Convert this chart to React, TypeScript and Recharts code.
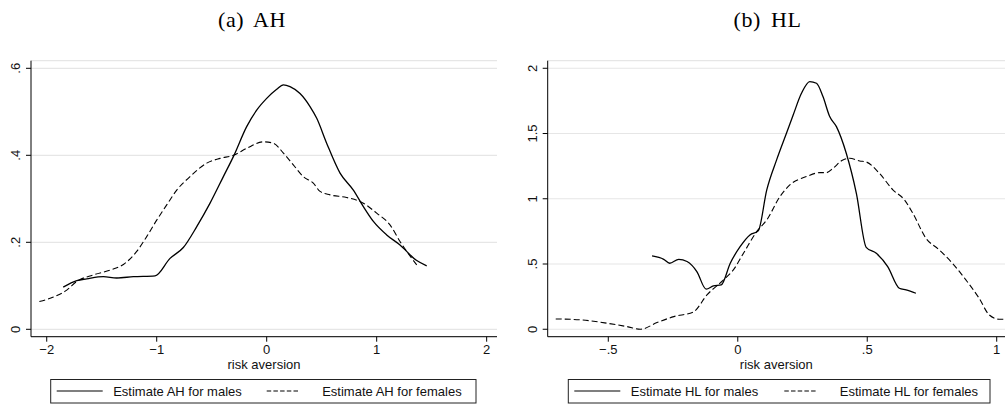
import { CartesianGrid, Line, LineChart, XAxis, YAxis } from "recharts";

// panel (a) AH
const ahMales = [
  { x: -1.85, y: 0.097 }, { x: -1.727, y: 0.112 }, { x: -1.636, y: 0.116 },
  { x: -1.485, y: 0.121 }, { x: -1.364, y: 0.118 }, { x: -1.212, y: 0.121 },
  { x: -1.015, y: 0.123 }, { x: -0.879, y: 0.163 }, { x: -0.758, y: 0.188 },
  { x: -0.636, y: 0.236 }, { x: -0.515, y: 0.29 }, { x: -0.394, y: 0.351 },
  { x: -0.303, y: 0.397 }, { x: -0.182, y: 0.466 }, { x: -0.091, y: 0.504 },
  { x: 0, y: 0.531 }, { x: 0.091, y: 0.552 }, { x: 0.152, y: 0.562 },
  { x: 0.212, y: 0.558 }, { x: 0.303, y: 0.542 }, { x: 0.394, y: 0.512 },
  { x: 0.455, y: 0.485 }, { x: 0.545, y: 0.428 }, { x: 0.667, y: 0.359 },
  { x: 0.788, y: 0.32 }, { x: 0.879, y: 0.282 }, { x: 0.97, y: 0.248 },
  { x: 1.091, y: 0.217 }, { x: 1.212, y: 0.194 }, { x: 1.364, y: 0.158 },
  { x: 1.455, y: 0.146 },
];

const ahFemales = [
  { x: -2.067, y: 0.064 }, { x: -1.939, y: 0.074 }, { x: -1.818, y: 0.09 },
  { x: -1.727, y: 0.11 }, { x: -1.576, y: 0.125 }, { x: -1.424, y: 0.136 },
  { x: -1.303, y: 0.149 }, { x: -1.182, y: 0.179 }, { x: -1.091, y: 0.213 },
  { x: -1.0, y: 0.251 }, { x: -0.909, y: 0.286 }, { x: -0.818, y: 0.32 },
  { x: -0.697, y: 0.351 }, { x: -0.545, y: 0.382 }, { x: -0.424, y: 0.393 },
  { x: -0.303, y: 0.4 }, { x: -0.182, y: 0.416 }, { x: -0.03, y: 0.431 },
  { x: 0.06, y: 0.428 }, { x: 0.152, y: 0.405 }, { x: 0.242, y: 0.378 },
  { x: 0.333, y: 0.351 }, { x: 0.424, y: 0.336 }, { x: 0.485, y: 0.317 },
  { x: 0.576, y: 0.309 }, { x: 0.727, y: 0.303 }, { x: 0.879, y: 0.29 },
  { x: 1.0, y: 0.267 }, { x: 1.121, y: 0.24 }, { x: 1.212, y: 0.202 },
  { x: 1.364, y: 0.148 },
];

const ahXTicks = [-2, -1, 0, 1, 2];
const ahXLabels = ["−2", "−1", "0", "1", "2"];
const ahYTicks = [0, 0.2, 0.4, 0.6];
const ahYLabels = ["0", ".2", ".4", ".6"];

// panel (b) HL
const hlMales = [
  { x: -0.331, y: 0.562 }, { x: -0.286, y: 0.536 }, { x: -0.263, y: 0.506 },
  { x: -0.228, y: 0.536 }, { x: -0.196, y: 0.519 }, { x: -0.158, y: 0.442 },
  { x: -0.122, y: 0.307 }, { x: -0.094, y: 0.332 }, { x: -0.064, y: 0.34 },
  { x: -0.029, y: 0.506 }, { x: 0.009, y: 0.633 }, { x: 0.047, y: 0.723 },
  { x: 0.079, y: 0.754 }, { x: 0.112, y: 1.068 }, { x: 0.15, y: 1.298 },
  { x: 0.188, y: 1.502 }, { x: 0.214, y: 1.642 }, { x: 0.246, y: 1.808 },
  { x: 0.278, y: 1.898 }, { x: 0.304, y: 1.885 }, { x: 0.329, y: 1.783 },
  { x: 0.355, y: 1.63 }, { x: 0.381, y: 1.553 }, { x: 0.419, y: 1.349 },
  { x: 0.458, y: 1.042 }, { x: 0.496, y: 0.628 }, { x: 0.535, y: 0.582 },
  { x: 0.579, y: 0.48 }, { x: 0.624, y: 0.314 }, { x: 0.65, y: 0.301 },
  { x: 0.688, y: 0.276 },
];

const hlFemales = [
  { x: -0.703, y: 0.079 }, { x: -0.606, y: 0.072 }, { x: -0.504, y: 0.046 },
  { x: -0.427, y: 0.02 }, { x: -0.376, y: 0 }, { x: -0.312, y: 0.051 },
  { x: -0.247, y: 0.097 }, { x: -0.171, y: 0.133 }, { x: -0.119, y: 0.263 },
  { x: -0.055, y: 0.378 }, { x: -0.017, y: 0.455 }, { x: 0.022, y: 0.582 },
  { x: 0.073, y: 0.748 }, { x: 0.112, y: 0.838 }, { x: 0.163, y: 1.017 },
  { x: 0.201, y: 1.106 }, { x: 0.265, y: 1.17 }, { x: 0.317, y: 1.2 },
  { x: 0.342, y: 1.2 }, { x: 0.368, y: 1.234 }, { x: 0.406, y: 1.298 },
  { x: 0.432, y: 1.31 }, { x: 0.471, y: 1.29 }, { x: 0.496, y: 1.282 },
  { x: 0.547, y: 1.195 }, { x: 0.599, y: 1.068 }, { x: 0.644, y: 0.991 },
  { x: 0.676, y: 0.889 }, { x: 0.727, y: 0.697 }, { x: 0.778, y: 0.608 },
  { x: 0.829, y: 0.506 }, { x: 0.881, y: 0.378 }, { x: 0.932, y: 0.238 },
  { x: 0.971, y: 0.11 }, { x: 1.009, y: 0.077 }, { x: 1.028, y: 0.077 },
];

const hlXTicks = [-0.5, 0, 0.5, 1];
const hlXLabels = ["−.5", "0", ".5", "1"];
const hlYTicks = [0, 0.5, 1, 1.5, 2];
const hlYLabels = ["0", ".5", "1", "1.5", "2"];

const SANS = "'Liberation Sans', Arial, Helvetica, sans-serif";
const SERIF = "'Liberation Serif', 'Times New Roman', serif";

function makeXTick(ticks: number[], labels: string[]) {
  return (p: any) => {
    const i = ticks.findIndex((t) => Math.abs(t - p.payload.value) < 1e-9);
    return (
      <text x={p.x} y={p.y} dy="0.71em" textAnchor="middle" fontSize={13} fontFamily={SANS} fill="#111">
        {labels[i]}
      </text>
    );
  };
}

function makeYTick(ticks: number[], labels: string[]) {
  return (p: any) => {
    const i = ticks.findIndex((t) => Math.abs(t - p.payload.value) < 1e-9);
    const bx = p.x - 2.5;
    return (
      <text
        x={bx}
        y={p.y}
        transform={`rotate(-90 ${bx} ${p.y})`}
        textAnchor="middle"
        fontSize={13}
        fontFamily={SANS}
        fill="#111"
      >
        {labels[i]}
      </text>
    );
  };
}

type PanelProps = {
  left: number;
  width: number;
  yAxisWidth: number;
  marginRight: number;
  xDomain: [number, number];
  yDomain: [number, number];
  xTicks: number[];
  xLabels: string[];
  yTicks: number[];
  yLabels: string[];
  males: { x: number; y: number }[];
  females: { x: number; y: number }[];
};

function Panel(props: PanelProps) {
  return (
    <div style={{ position: "absolute", left: props.left, top: 0 }}>
      <LineChart
        width={props.width}
        height={404}
        margin={{ top: 60.7, right: props.marginRight, bottom: 34.3, left: 0 }}
      >
        <CartesianGrid horizontal vertical={false} stroke="#e6e6e6" strokeWidth={1.2} />
        <XAxis
          dataKey="x"
          type="number"
          domain={props.xDomain}
          ticks={props.xTicks}
          interval={0}
          allowDataOverflow
          height={33}
          tickSize={5}
          tickMargin={3}
          stroke="#000"
          tick={makeXTick(props.xTicks, props.xLabels)}
          label={{
            value: "risk aversion",
            position: "insideBottom",
            offset: 1,
            fontSize: 13,
            fontFamily: SANS,
            fill: "#111",
          }}
        />
        <YAxis
          dataKey="y"
          type="number"
          domain={props.yDomain}
          ticks={props.yTicks}
          interval={0}
          allowDataOverflow
          width={props.yAxisWidth}
          tickSize={5}
          tickMargin={3}
          stroke="#000"
          tick={makeYTick(props.yTicks, props.yLabels)}
        />
        <Line
          data={props.males}
          dataKey="y"
          type="monotone"
          stroke="#000"
          strokeWidth={1.3}
          dot={false}
          isAnimationActive={false}
        />
        <Line
          data={props.females}
          dataKey="y"
          type="monotone"
          stroke="#000"
          strokeWidth={1.1}
          strokeDasharray="6 3"
          dot={false}
          isAnimationActive={false}
        />
      </LineChart>
    </div>
  );
}

function LegendBox({ left, width, maleText, femaleText }: { left: number; width: number; maleText: string; femaleText: string }) {
  return (
    <g>
      <rect x={left} y={379.5} width={width} height={23.5} fill="#fff" stroke="#222" strokeWidth={1} />
      <line x1={left + 6} x2={left + 52} y1={391} y2={391} stroke="#000" strokeWidth={1.2} />
      <text x={left + 62.5} y={396} fontSize={13} fontFamily={SANS} fill="#111">{maleText}</text>
      <line x1={left + 216} x2={left + 248} y1={391} y2={391} stroke="#000" strokeWidth={1.1} strokeDasharray="4.5 2.2" />
      <text x={left + 271.5} y={396} fontSize={13} fontFamily={SANS} fill="#111">{femaleText}</text>
    </g>
  );
}

export default function App() {
  return (
    <div style={{ position: "absolute", left: 0, top: 0, width: 1005, height: 404, background: "#fff", overflow: "hidden" }}>
      <Panel
        left={0}
        width={502}
        yAxisWidth={31}
        marginRight={5}
        xDomain={[-2.143, 2.094]}
        yDomain={[-0.017, 0.6175]}
        xTicks={ahXTicks}
        xLabels={ahXLabels}
        yTicks={ahYTicks}
        yLabels={ahYLabels}
        males={ahMales}
        females={ahFemales}
      />
      <Panel
        left={502}
        width={503}
        yAxisWidth={45.7}
        marginRight={0}
        xDomain={[-0.734, 1.032]}
        yDomain={[-0.057, 2.058]}
        xTicks={hlXTicks}
        xLabels={hlXLabels}
        yTicks={hlYTicks}
        yLabels={hlYLabels}
        males={hlMales}
        females={hlFemales}
      />
      <svg width={1005} height={404} style={{ position: "absolute", left: 0, top: 0, pointerEvents: "none" }}>
        <text x={252} y={26.7} textAnchor="middle" fontSize={22} fontFamily={SERIF} fill="#000" letterSpacing={0.6} wordSpacing={4}>
          (a) AH
        </text>
        <text x={767.5} y={26.7} textAnchor="middle" fontSize={22} fontFamily={SERIF} fill="#000" letterSpacing={0.6} wordSpacing={4}>
          (b) HL
        </text>
        <LegendBox left={50.7} width={425.3} maleText="Estimate AH for males" femaleText="Estimate AH for females" />
        <LegendBox left={568.3} width={421.7} maleText="Estimate HL for males" femaleText="Estimate HL for females" />
      </svg>
    </div>
  );
}
